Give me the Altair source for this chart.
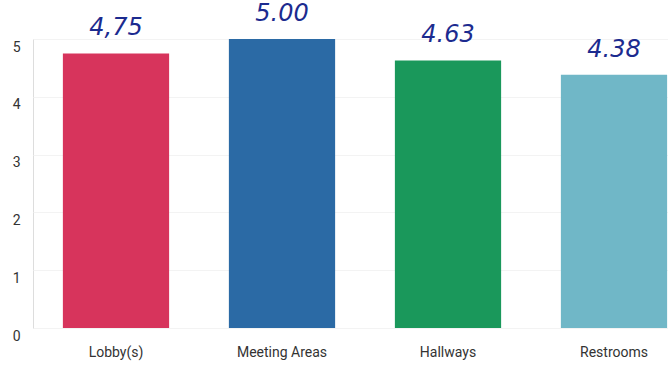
import altair as alt
import pandas as pd

categories = ["Lobby(s)", "Meeting Areas", "Hallways", "Restrooms"]
values = [4.75, 5.00, 4.63, 4.38]
notes = ["4,75", "5.00", "4.63", "4.38"]
colors = ["#d7345c", "#2b6aa5", "#1a985b", "#70b7c7"]

df = pd.DataFrame({"category": categories, "value": values, "note": notes})

x = alt.X("category:N", sort=categories, title=None,
          scale=alt.Scale(range=[0, 664], paddingInner=0.36, paddingOuter=0.18),
          axis=alt.Axis(labelAngle=0, labelFont="Roboto", labelFontSize=14,
                        labelColor="#333333", domain=False, ticks=False, labelPadding=17))
y = alt.Y("value:Q", title=None,
          scale=alt.Scale(domain=[0, 5], nice=False),
          axis=alt.Axis(values=[0, 1, 2, 3, 4, 5], labelFont="Roboto", labelFontSize=14,
                        labelColor="#333333", domain=False, ticks=False, labelPadding=13,
                        labelOffset=8, gridColor="#f3f3f3"))

bars = alt.Chart(df).mark_bar().encode(
    x=x, y=y,
    color=alt.Color("category:N", sort=categories,
                    scale=alt.Scale(domain=categories, range=colors), legend=None),
)

text = alt.Chart(df).mark_text(
    font="DejaVu Sans", fontStyle="italic", fontSize=24, color="#1c2b8f",
    dy=-25, baseline="middle",
).encode(x=x, y=y, text="note:N")

chart = (bars + text).properties(
    width=635, height=289,
    autosize=alt.AutoSizeParams(type="none"),
    padding={"left": 33, "top": 39, "right": 0, "bottom": 39},
).configure_view(stroke=None).configure(background="white")

chart.save("out.html", embed_options={"renderer": "svg", "actions": False})
